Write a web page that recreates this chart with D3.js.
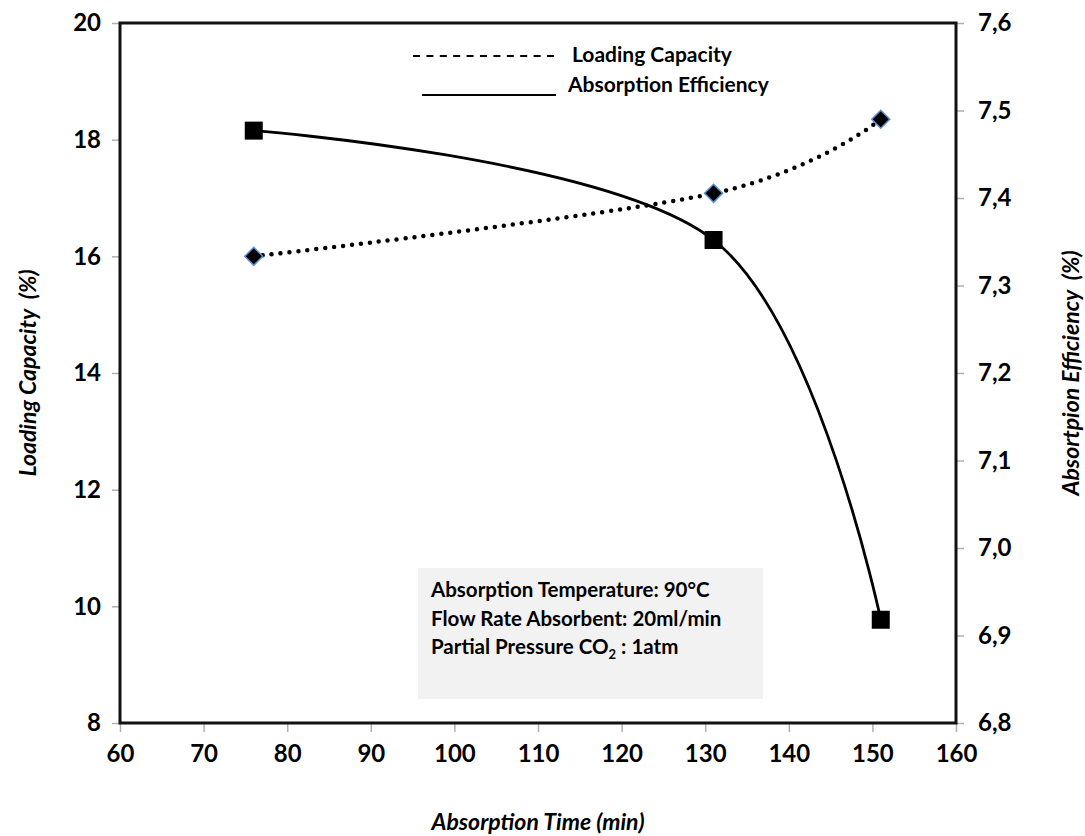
<!DOCTYPE html>
<html>
<head>
<meta charset="utf-8">
<title>Absorption chart</title>
<script src="https://d3js.org/d3.v7.min.js"></script>
<style>
  body { margin: 0; background: #fff; }
  text { font-family: Lato, "Noto Sans", sans-serif; font-weight: bold; }
</style>
</head>
<body>
<div id="chart"></div>
<script>

// data
var time = [76, 131, 151];
var loadingCapacity = [16.0, 17.08, 18.35];      // left axis, %
var absorptionEfficiency = [7.477, 7.352, 6.918]; // right axis, %

var xTicks = [60, 70, 80, 90, 100, 110, 120, 130, 140, 150, 160];
var leftTicks = [8, 10, 12, 14, 16, 18, 20];
var rightTicks = [6.8, 6.9, 7.0, 7.1, 7.2, 7.3, 7.4, 7.5, 7.6];

var infoLines = ["Absorption Temperature: 90°C", "Flow Rate Absorbent: 20ml/min"];

var margin = {top: 23, right: 129, bottom: 113, left: 120},
    width = 1085 - margin.left - margin.right,
    height = 836 - margin.top - margin.bottom;

var svg = d3.select("#chart")
  .append("svg")
    .attr("width", 1085)
    .attr("height", 836);

var g = svg.append("g")
    .attr("transform", "translate(" + margin.left + "," + margin.top + ")");

var x = d3.scaleLinear().domain([60, 160]).range([0, width]);
var yL = d3.scaleLinear().domain([8, 20]).range([height, 0]);
var yR = d3.scaleLinear().domain([6.8, 7.6]).range([height, 0]);

// axes
var fmtR = function(d) { return d3.format(".1f")(d).replace(".", ","); };

var xAxis = g.append("g")
  .attr("transform", "translate(0," + height + ")")
  .call(d3.axisBottom(x).tickValues(xTicks).tickSize(9).tickPadding(13));
var lAxis = g.append("g")
  .call(d3.axisLeft(yL).tickValues(leftTicks).tickSize(8).tickPadding(11));
var rAxis = g.append("g")
  .attr("transform", "translate(" + width + ",0)")
  .call(d3.axisRight(yR).tickValues(rightTicks).tickFormat(fmtR).tickSize(8).tickPadding(14));

[xAxis, lAxis, rAxis].forEach(function(a) {
  a.select(".domain").remove();
  a.selectAll(".tick line").attr("stroke", "#b0b0b0").attr("stroke-width", 1.5);
  a.selectAll(".tick text").attr("font-size", 24).attr("fill", "#000")
    .style("font-family", "Lato, sans-serif").style("font-weight", "bold");
});

// text box
var box = g.append("g").attr("transform", "translate(" + (418 - margin.left) + "," + (568 - margin.top) + ")");
box.append("rect").attr("width", 345).attr("height", 131).attr("fill", "#f2f2f2");
infoLines.forEach(function(t, i) {
  box.append("text").attr("x", 13).attr("y", 29 + i * 28.5).attr("font-size", 20.5).text(t);
});
var co = box.append("text").attr("x", 13).attr("y", 29 + 2 * 28.5).attr("font-size", 20.5);
co.append("tspan").text("Partial Pressure CO");
co.append("tspan").attr("font-size", 13).attr("dy", 5).text("2");
co.append("tspan").attr("dy", -5).text(" : 1atm");

// lines
var lineL = d3.line()
  .x(function(d, i) { return x(time[i]); })
  .y(function(d) { return yL(d); })
  .curve(d3.curveCatmullRom.alpha(0));
var lineR = d3.line()
  .x(function(d, i) { return x(time[i]); })
  .y(function(d) { return yR(d); })
  .curve(d3.curveCatmullRom.alpha(0));

g.append("path").datum(loadingCapacity)
  .attr("d", lineL).attr("fill", "none").attr("stroke", "#000")
  .attr("stroke-width", 4.5).attr("stroke-linecap", "round").attr("stroke-dasharray", "0 9");
g.append("path").datum(absorptionEfficiency)
  .attr("d", lineR).attr("fill", "none").attr("stroke", "#000").attr("stroke-width", 2.8);

// markers
g.selectAll(".sq").data(absorptionEfficiency).enter().append("rect")
  .attr("x", function(d, i) { return x(time[i]) - 9; })
  .attr("y", function(d) { return yR(d) - 9; })
  .attr("width", 18).attr("height", 18).attr("fill", "#000");
g.selectAll(".dm").data(loadingCapacity).enter().append("path")
  .attr("transform", function(d, i) { return "translate(" + x(time[i]) + "," + yL(d) + ")"; })
  .attr("d", "M0,-9L9,0L0,9L-9,0Z")
  .attr("fill", "#000").attr("stroke", "#5b8fd0").attr("stroke-width", 1.5);

// frame
g.append("rect").attr("width", width).attr("height", height)
  .attr("fill", "none").attr("stroke", "#111").attr("stroke-width", 3);

// legend (hand drawn text box in the original)
var leg = svg.append("g");
leg.append("line").attr("x1", 413).attr("x2", 560).attr("y1", 56).attr("y2", 56)
  .attr("stroke", "#000").attr("stroke-width", 2).attr("stroke-dasharray", "7 6.4");
leg.append("text").attr("x", 572).attr("y", 62).attr("font-size", 21).text("Loading Capacity");
leg.append("line").attr("x1", 422).attr("x2", 556).attr("y1", 95).attr("y2", 95)
  .attr("stroke", "#000").attr("stroke-width", 2);
leg.append("text").attr("x", 568).attr("y", 92).attr("font-size", 21).text("Absorption Efficiency");

// axis titles
svg.append("text").attr("x", margin.left + width / 2).attr("y", 830)
  .attr("text-anchor", "middle").attr("font-size", 23).attr("font-style", "italic")
  .text("Absorption Time (min)");
svg.append("text").attr("transform", "translate(36," + (margin.top + height / 2) + ") rotate(-90)")
  .attr("text-anchor", "middle").attr("font-size", 23).attr("font-style", "italic")
  .attr("xml:space", "preserve").text("Loading Capacity  (%)");
svg.append("text").attr("transform", "translate(1079," + (margin.top + height / 2) + ") rotate(-90)")
  .attr("text-anchor", "middle").attr("font-size", 23).attr("font-style", "italic")
  .attr("xml:space", "preserve").text("Absortpion Efficiency  (%)");

</script>
</body>
</html>
